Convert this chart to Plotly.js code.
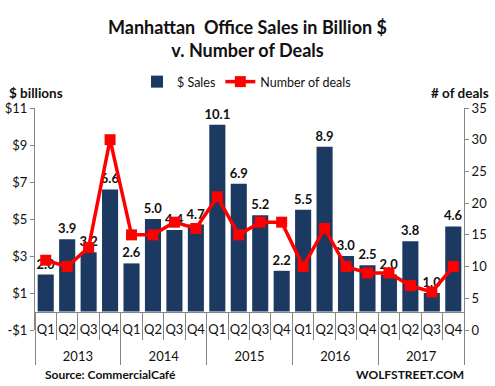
<!DOCTYPE html>
<html><head><meta charset="utf-8">
<script src="https://cdn.plot.ly/plotly-3.0.1.min.js"></script>
<style>html,body{margin:0;padding:0;background:#fff}#c{width:495px;height:386px}</style>
</head><body><div id="c"></div>
<script>
var years = ['2013','2014','2015','2016','2017'];
var quarters = ['Q1','Q2','Q3','Q4'];
var sales = [2.0,3.9,3.2,6.6, 2.6,5.0,4.4,4.7, 10.1,6.9,5.2,2.2, 5.5,8.9,3.0,2.5, 2.0,3.8,1.0,4.6];
var deals = [11,10,13,30, 15,15,17,16, 21,15,17,17, 10,16,10,9, 9,7,6,10];
var leftTicks = [-1,1,3,5,7,9,11];
var leftTickText = ['-$1','$1','$3','$5','$7','$9','$11'];
var rightTicks = [0,5,10,15,20,25,30,35];

// category index positions built from the label arrays
var idx = [], qText = [], qSep = [], yearPos = [], yearSep = [-0.5];
years.forEach(function(y, yi){
  quarters.forEach(function(q, qi){
    var i = yi*quarters.length + qi;
    idx.push(i); qText.push(q);
    if (qi < quarters.length-1) qSep.push(i+0.5);
  });
  yearPos.push(yi*quarters.length + (quarters.length-1)/2);
  yearSep.push((yi+1)*quarters.length - 0.5);
});
var xr = [-0.5, idx.length-0.5];

var F = 'Lato, "Open Sans", sans-serif';
var plotTop = 108, plotBot = 330, plotL = 35, plotR = 464, H = 386, W = 495;
function py(p){ return (plotBot - p)/(plotBot - plotTop); }
function px(p){ return (p - plotL)/(plotR - plotL); }
var axisPos = py(311.5);
var AX = '#868686';

var traces = [
 {type:'bar', name:'$ Sales', x:idx, y:sales, marker:{color:'#1C3961'}, width:0.75,
  text:sales.map(function(v){return v.toFixed(1);}), textposition:'outside', cliponaxis:false, constraintext:'none',
  textfont:{family:F, size:13, color:'#111', weight:700}, hoverinfo:'none'},
 {type:'scatter', mode:'lines+markers', name:'Number of deals', x:idx, y:deals, yaxis:'y2',
  line:{color:'#FF0000', width:3.5}, marker:{symbol:'square', size:11, color:'#FF0000'}, cliponaxis:false},
 {type:'scatter', x:[], y:[], xaxis:'x2', yaxis:'y', showlegend:false, hoverinfo:'skip'},
 {type:'scatter', x:[], y:[], xaxis:'x3', yaxis:'y', showlegend:false, hoverinfo:'skip'},
 {type:'scatter', x:[], y:[], xaxis:'x4', yaxis:'y', showlegend:false, hoverinfo:'skip'}
];

var layout = {
 width:W, height:H, margin:{l:plotL, r:W-plotR, t:plotTop, b:H-plotBot},
 paper_bgcolor:'#fff', plot_bgcolor:'rgba(0,0,0,0)', showlegend:true,
 font:{family:F, size:13, color:'#111'},
 title:{text:'Manhattan  Office Sales in Billion $<br>v. Number of Deals', x:0.5, xanchor:'center', y:1-34/H, yanchor:'middle',
   font:{family:F, size:18, color:'#111', weight:700}},
 legend:{orientation:'h', x:px(137), y:py(82), xanchor:'left', yanchor:'middle', font:{family:F, size:12.5, color:'#111'}, bgcolor:'rgba(0,0,0,0)'},
 xaxis:{range:xr, anchor:'free', position:axisPos, showline:true, linecolor:AX, linewidth:1,
   tickmode:'array', tickvals:idx, ticktext:qText, ticks:'', ticklabelstandoff:6, tickangle:0,
   tickfont:{family:F, size:13, color:'#111'}, showgrid:false, zeroline:false, fixedrange:true},
 xaxis2:{range:xr, overlaying:'x', anchor:'free', position:axisPos, showline:false,
   tickmode:'array', tickvals:qSep, ticks:'outside', ticklen:27, tickcolor:AX, showticklabels:false, showgrid:false, zeroline:false},
 xaxis3:{range:xr, overlaying:'x', anchor:'free', position:axisPos, showline:false,
   tickmode:'array', tickvals:yearSep, ticks:'outside', ticklen:52, tickcolor:AX, showticklabels:false, showgrid:false, zeroline:false},
 xaxis4:{range:xr, overlaying:'x', anchor:'free', position:axisPos, showline:false,
   tickmode:'array', tickvals:yearPos, ticktext:years, ticks:'', ticklabelstandoff:35, tickangle:0,
   tickfont:{family:F, size:13, color:'#111'}, showgrid:false, zeroline:false},
 yaxis:{range:[-1,11], tickvals:leftTicks, ticktext:leftTickText, showline:true, linecolor:AX, ticks:'outside', ticklen:4, tickcolor:AX,
   showgrid:false, zeroline:false, tickfont:{family:F, size:13, color:'#111'}},
 yaxis2:{range:[0,35], tickvals:rightTicks, overlaying:'y', side:'right', showline:true, linecolor:AX, ticks:'outside', ticklen:4, tickcolor:AX,
   showgrid:false, zeroline:false, tickfont:{family:F, size:13, color:'#111'}},
 annotations:[
  {text:'$ billions', xref:'paper', yref:'paper', x:px(7), y:py(93), xanchor:'left', yanchor:'middle', showarrow:false, font:{family:F, size:13.5, color:'#111', weight:700}},
  {text:'# of deals', xref:'paper', yref:'paper', x:px(491), y:py(93), xanchor:'right', yanchor:'middle', showarrow:false, font:{family:F, size:13.5, color:'#111', weight:700}},
  {text:'Source: CommercialCafé', xref:'paper', yref:'paper', x:px(43), y:py(374), xanchor:'left', yanchor:'middle', showarrow:false, font:{family:F, size:12, color:'#111', weight:700}},
  {text:'WOLFSTREET.COM', xref:'paper', yref:'paper', x:px(466), y:py(374), xanchor:'right', yanchor:'middle', showarrow:false, font:{family:F, size:12, color:'#111', weight:700}}
 ]
};
Plotly.newPlot('c', traces, layout, {displayModeBar:false, staticPlot:true});
</script></body></html>
